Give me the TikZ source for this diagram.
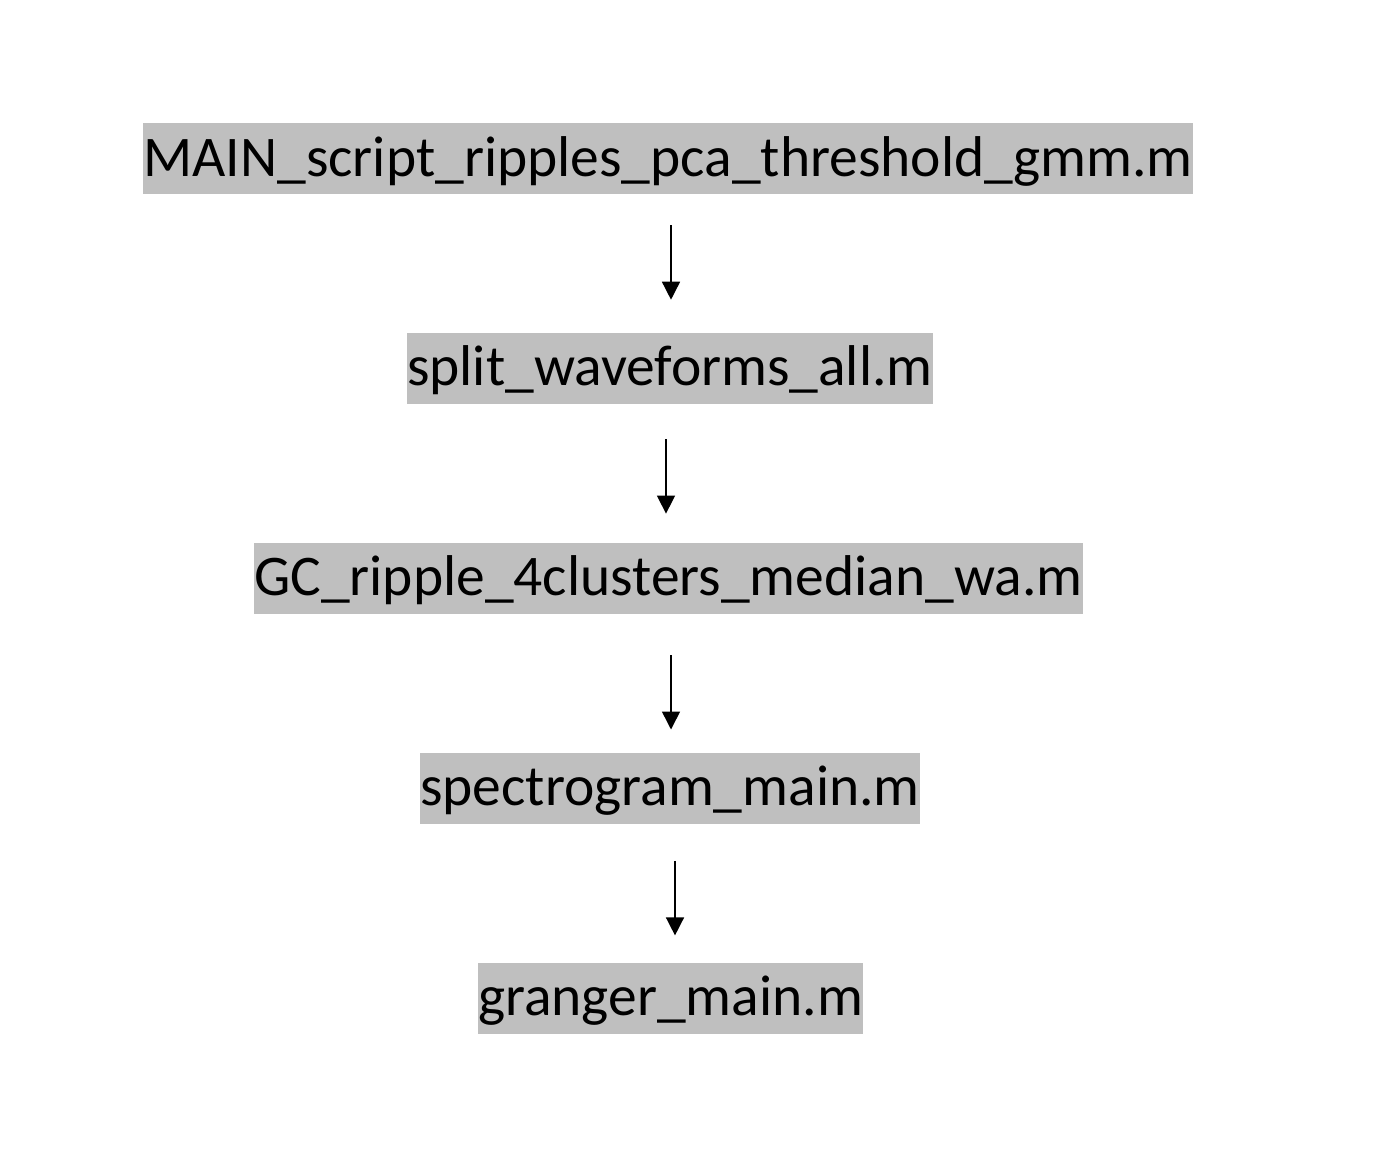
\documentclass[tikz,border=0pt]{standalone}
\usepackage{fontspec}
\setmainfont{Carlito}
\usetikzlibrary{arrows.meta,positioning}
\definecolor{filegray}{HTML}{BFBFBF}

\begin{document}
\begin{tikzpicture}[x=1pt, y=1pt,
  file/.style={fill=filegray, inner xsep=0pt, inner ysep=0pt, minimum height=71pt, text height=46pt, text depth=11pt, font=\fontsize{57.5}{69}\selectfont},
  arr/.style={-{Triangle[length=18pt, width=18pt]}, line width=1.5pt}
]
\useasboundingbox (0,0) rectangle (1396,-1170);
\node[file] (main) at (668,-158.5) {MAIN\_script\_ripples\_pca\_threshold\_gmm.m};
\node[file, below=138.5pt of main, xshift=2pt] (split) {split\_waveforms\_all.m};
\node[file, below=138.5pt of split, xshift=-1.5pt] (gc) {GC\_ripple\_4clusters\_median\_wa.m};
\node[file, below=138.5pt of gc, xshift=1.5pt] (spec) {spectrogram\_main.m};
\node[file, below=138.5pt of spec, xshift=0.5pt] (gran) {granger\_main.m};
% call order
\draw[arr] ([xshift=3pt, yshift=-31pt]main.south) -- ([xshift=1pt, yshift=33pt]split.north);
\draw[arr] ([xshift=-4pt, yshift=-35pt]split.south) -- ([xshift=-2.5pt, yshift=29pt]gc.north);
\draw[arr] ([xshift=2.5pt, yshift=-41pt]gc.south) -- ([xshift=1pt, yshift=23pt]spec.north);
\draw[arr] ([xshift=5pt, yshift=-37pt]spec.south) -- ([xshift=4.5pt, yshift=27pt]gran.north);
\end{tikzpicture}
\end{document}
